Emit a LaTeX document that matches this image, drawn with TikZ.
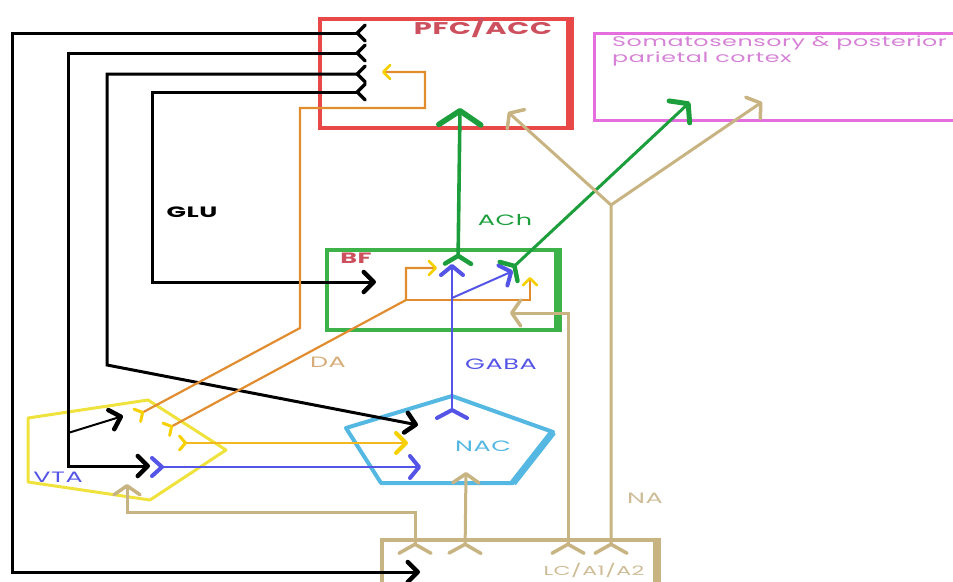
\documentclass[tikz,border=0pt]{standalone}
\usepackage{fontspec}
\usetikzlibrary{arrows.meta}
\newfontfamily\lblfont[FakeStretch=1.7,LetterSpace=4]{Poppins}
\definecolor{PfcRed}{RGB}{232,72,72}
\definecolor{PfcText}{RGB}{205,80,95}
\definecolor{SomaPink}{RGB}{228,110,222}
\definecolor{SomaText}{RGB}{214,130,214}
\definecolor{BfGreen}{RGB}{60,178,72}
\definecolor{AchGreen}{RGB}{28,158,60}
\definecolor{GabaBlue}{RGB}{84,84,230}
\definecolor{NacCyan}{RGB}{84,184,226}
\definecolor{VtaYellow}{RGB}{240,226,60}
\definecolor{DaOrange}{RGB}{226,140,48}
\definecolor{DaGold}{RGB}{242,184,30}
\definecolor{ForkYellow}{RGB}{246,208,0}
\definecolor{NaTan}{RGB}{200,180,130}
\definecolor{NaText}{RGB}{205,188,150}
\definecolor{DaText}{RGB}{214,172,120}

\begin{document}
\begin{tikzpicture}[x=1pt, y=-1pt,
		lbl/.style={inner sep=0pt, font=\lblfont\fontsize{15}{17}\selectfont},
		lblb/.style={inner sep=0pt, font=\lblfont\bfseries\fontsize{15}{17}\selectfont},
		glu/.style={black, line width=3pt},
		da/.style={DaOrange, line width=2.2pt},
		gaba/.style={GabaBlue, line width=2.6pt},
		ach/.style={AchGreen, line width=3.6pt},
		na/.style={NaTan, line width=3pt},
		gfork/.tip={Straight Barb[reversed,round,length=8pt,width=16pt,line width=3.5pt]},
		ghead/.tip={Straight Barb[round,length=10pt,width=20pt,line width=4.5pt]},
		dfork/.tip={Straight Barb[reversed,round,length=6pt,width=14pt,line width=3pt,color=ForkYellow]},
		dhead/.tip={Straight Barb[round,length=7pt,width=14pt,line width=2.6pt,color=ForkYellow]},
		dheadL/.tip={Straight Barb[round,length=10pt,width=20pt,line width=4pt,color=ForkYellow]},
		bforkv/.tip={Straight Barb[reversed,round,length=10pt,width=18pt,line width=4pt]},
		bforkn/.tip={Straight Barb[reversed,round,length=8pt,width=30pt,line width=4pt]},
		bhead/.tip={Straight Barb[round,length=9pt,width=22pt,line width=4pt]},
		afork/.tip={Straight Barb[reversed,round,length=8pt,width=26pt,line width=4.5pt]},
		ahead/.tip={Straight Barb[round,length=12pt,width=30pt,line width=5pt]},
		aheadL/.tip={Straight Barb[round,length=14pt,width=42pt,line width=5.5pt]},
		nfork/.tip={Straight Barb[reversed,round,length=9pt,width=32pt,line width=3.5pt]},
		nhead/.tip={Straight Barb[round,length=9pt,width=26pt,line width=3.5pt]}
	]
	\useasboundingbox (0,0) rectangle (953,581);
	% areas
	\node[draw=PfcRed, line width=4pt, minimum width=248pt, minimum height=109pt, inner sep=0pt] (pfc) at (444,73.5) {};
	\draw[PfcRed, line width=7pt] (pfc.north east) -- (pfc.south east);
	\node[draw=SomaPink, line width=3pt, minimum width=420pt, minimum height=87pt, inner sep=0pt] (soma) at (804.5,77) {};
	\node[draw=BfGreen, line width=4pt, minimum width=229pt, minimum height=80pt, inner sep=0pt] (bf) at (441.5,290) {};
	\draw[BfGreen, line width=8pt] (bf.north east) -- (bf.south east);
	\node[draw=NaTan, line width=3.5pt, minimum width=273pt, minimum height=70pt, inner sep=0pt] (lc) at (518.5,575) {};
	\draw[NaTan, line width=8pt] (lc.north east) -- (lc.south east);
	\coordinate (nacT) at (452,396);
	\coordinate (nacR) at (553,432);
	\coordinate (nacBR) at (513,483);
	\coordinate (nacBL) at (381,483);
	\coordinate (nacL) at (346,428);
	\draw[NacCyan, line width=4pt, line join=round] (nacT) -- (nacR) -- (nacBR) -- (nacBL) -- (nacL) -- cycle;
	\draw[NacCyan, line width=7pt] (nacR) -- (nacBR);
	\coordinate (vtaA) at (28,418);
	\coordinate (vtaB) at (148,400);
	\coordinate (vtaC) at (226,450);
	\coordinate (vtaD) at (150,500);
	\coordinate (vtaE) at (28,482);
	\draw[VtaYellow, line width=3pt, line join=round] (vtaA) -- (vtaB) -- (vtaC) -- (vtaD) -- (vtaE) -- cycle;
	% GLU
	\coordinate (pfcG1) at (367,33);
	\coordinate (pfcG2) at (367,53);
	\coordinate (pfcG3) at (367,74);
	\coordinate (pfcG4) at (367,92);
	\coordinate (lcG) at (420,572);
	\coordinate (vtaG1) at (123,416);
	\coordinate (vtaG2) at (150,466);
	\coordinate (vtaJ) at (68,433);
	\coordinate (nacG) at (418,425);
	\coordinate (bfG) at (376,282);
	\draw[glu, gfork-ghead] (pfcG1) -| (12,572) -- (lcG);
	\draw[glu, gfork-ghead] (pfcG2) -| (68,466) -- (vtaG2);
	\draw[glu, line width=2pt, -ghead] (vtaJ) -- (vtaG1);
	\draw[glu, gfork-ghead] (pfcG3) -| (107,365) -- (nacG);
	\draw[glu, gfork-ghead] (pfcG4) -| (152,282) -- (bfG);
	% DA
	\coordinate (vtaD1) at (136,416);
	\coordinate (vtaD2) at (165,430);
	\coordinate (vtaD3) at (178,443);
	\coordinate (pfcD) at (382,72);
	\coordinate (daJ) at (406,300);
	\coordinate (bfD1) at (437,268);
	\coordinate (bfD2) at (530,277);
	\coordinate (nacD) at (408,443);
	\draw[da, dfork-dhead] (vtaD1) -- (300,328) |- (425,108) |- (pfcD);
	\draw[da, dfork-dhead] (vtaD2) -- (daJ) |- (bfD1);
	\draw[da, -dhead] (daJ) -| (bfD2);
	\draw[da, DaGold, dfork-dheadL] (vtaD3) -- (nacD);
	% GABA
	\coordinate (vtaGb) at (150,467);
	\coordinate (nacGb) at (421,467);
	\coordinate (nacOut) at (452,420);
	\coordinate (gabaJ) at (452,298);
	\coordinate (bfB1) at (452,264);
	\coordinate (bfB2) at (513,271);
	\draw[gaba, line width=1.6pt, bforkv-bhead] (vtaGb) -- (nacGb);
	\draw[gaba, bforkn-bhead] (nacOut) -- (bfB1);
	\draw[gaba, line width=2pt, -bhead] (gabaJ) -- (bfB2);
	% ACh
	\coordinate (bfA1) at (458,266);
	\coordinate (pfcA) at (460,108);
	\coordinate (bfA2) at (507,273);
	\coordinate (somaA) at (690,102);
	\draw[ach, afork-aheadL] (bfA1) -- (pfcA);
	\draw[ach, line width=3pt, afork-ahead] (bfA2) -- (somaA);
	% NA
	\coordinate (lcN1) at (415,555);
	\coordinate (lcN2) at (465,555);
	\coordinate (lcN3) at (568,555);
	\coordinate (lcN4) at (611,555);
	\coordinate (naJ) at (611,205);
	\coordinate (vtaN) at (127,484);
	\coordinate (nacN) at (466,472);
	\coordinate (bfN) at (510,313);
	\coordinate (pfcN) at (508,112);
	\coordinate (somaN) at (762,102);
	\draw[na, nfork-nhead] (lcN1) |- (127,512) -- (vtaN);
	\draw[na, nfork-nhead] (lcN2) -- (nacN);
	\draw[na, nfork-nhead] (lcN3) |- (bfN);
	\draw[na, nfork-nhead] (lcN4) -- (naJ) -- (somaN);
	\draw[na, -nhead] (naJ) -- (pfcN);
	% labels
	\node[lblb, PfcText, font=\lblfont\bfseries\fontsize{17}{19}\selectfont] (pfcL) at (483,28) {PFC/ACC};
	\node[lblb, PfcText] (bfL) at (356,258) {BF};
	\node[lblb, black] (gluL) at (192,212) {GLU};
	\node[lbl, SomaText, anchor=north west, align=left, font=\lblfont\fontsize{14}{16}\selectfont] (somaL) at (612,36) {Somatosensory \& posterior\\parietal cortex};
	\foreach \n/\txt/\col/\x/\y in {achL/ACh/AchGreen/505/220, daL/DA/DaText/328/362, gabaL/GABA/GabaBlue/501/364,
			nacL/NAC/NacCyan/483/446, vtaL/VTA/GabaBlue/58/477, naL/NA/NaText/645/498}
		\node[lbl, \col] (\n) at (\x,\y) {\txt};
	\node[lbl, NaText, font=\lblfont\fontsize{13}{15}\selectfont] (lcL) at (594,570) {LC/A1/A2};
\end{tikzpicture}
\end{document}
